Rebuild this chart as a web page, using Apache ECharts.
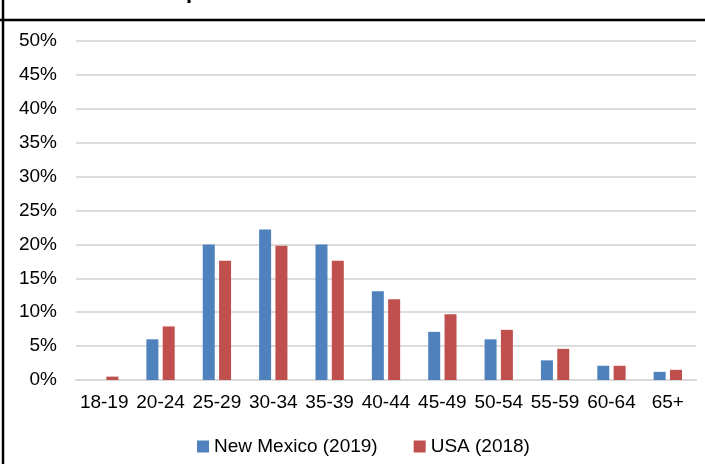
<!DOCTYPE html>
<html>
<head>
<meta charset="utf-8">
<script src="https://cdn.jsdelivr.net/npm/echarts@6/dist/echarts.min.js"></script>
<style>
  html, body { margin: 0; padding: 0; background: #fff; }
  #chart { width: 705px; height: 464px; }
</style>
</head>
<body>
<div id="chart"></div>
<script>
// Age bands and share of population in each (percent)
const ageGroups = ['18-19', '20-24', '25-29', '30-34', '35-39', '40-44', '45-49', '50-54', '55-59', '60-64', '65+'];
const newMexico2019 = [0, 6.0, 20.0, 22.2, 20.0, 13.1, 7.1, 6.0, 2.9, 2.1, 1.2];
const usa2018 = [0.5, 7.9, 17.6, 19.8, 17.6, 11.9, 9.7, 7.4, 4.6, 2.1, 1.5];
const yTicks = { min: 0, max: 50, step: 5 };

const FONT = 'Liberation Sans, Arial, sans-serif';
const chart = echarts.init(document.getElementById('chart'), null, { renderer: 'canvas' });

chart.setOption({
  backgroundColor: '#ffffff',
  animation: false,
  grid: { left: 76, right: 9, top: 41, bottom: 84, containLabel: false },
  legend: {
    data: ['New Mexico (2019)', 'USA (2018)'],
    left: 197,
    top: 437,
    padding: 0,
    itemWidth: 12,
    itemHeight: 12,
    itemGap: 36,
    icon: 'rect',
    textStyle: { fontFamily: FONT, fontSize: 19, color: '#000' }
  },
  xAxis: {
    type: 'category',
    data: ageGroups,
    axisTick: { show: false },
    axisLine: { lineStyle: { color: '#d9d9d9', width: 2 } },
    axisLabel: { interval: 0, margin: 13, fontFamily: FONT, fontSize: 19, color: '#000' }
  },
  yAxis: {
    type: 'value',
    min: yTicks.min,
    max: yTicks.max,
    interval: yTicks.step,
    axisLine: { show: false },
    axisTick: { show: false },
    splitLine: { lineStyle: { color: '#dcdcdc', width: 2 } },
    axisLabel: { formatter: '{value}%', margin: 19, fontFamily: FONT, fontSize: 19, color: '#000' }
  },
  series: [
    {
      name: 'New Mexico (2019)',
      type: 'bar',
      data: newMexico2019,
      barWidth: 12,
      barGap: '36%',
      itemStyle: { color: '#4F81BD' }
    },
    {
      name: 'USA (2018)',
      type: 'bar',
      data: usa2018,
      barWidth: 12,
      itemStyle: { color: '#C0504D' }
    }
  ],
  graphic: [
    // frame: left edge and the rule under the heading
    { type: 'line', shape: { x1: 3, y1: 0, x2: 3, y2: 464 }, style: { stroke: '#000', lineWidth: 2.5 } },
    { type: 'line', shape: { x1: 0, y1: 20, x2: 705, y2: 20 }, style: { stroke: '#000', lineWidth: 2.5 } },
    // heading text, mostly above the top edge
    {
      type: 'text', left: 186, top: -19,
      style: { text: 'p', fontFamily: FONT, fontWeight: 'bold', fontSize: 22, fill: '#000' }
    }
  ]
});
</script>
</body>
</html>
